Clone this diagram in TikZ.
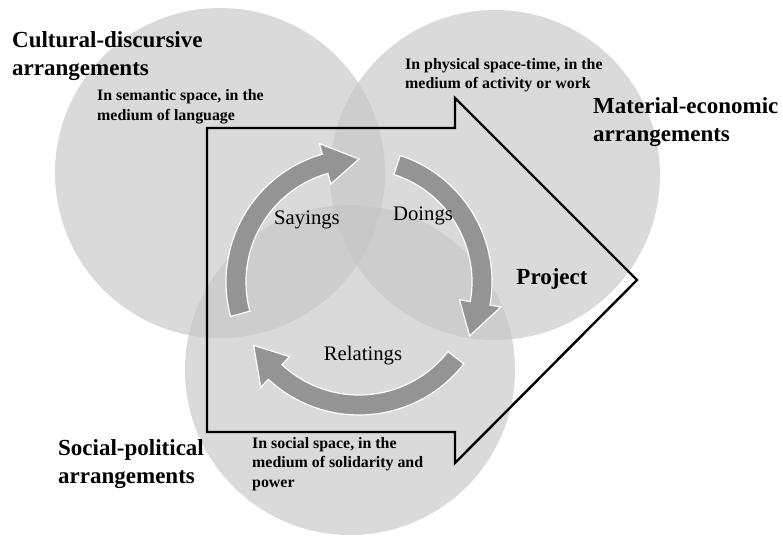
\documentclass[tikz,border=0pt]{standalone}
\usepackage{fontspec}
\setmainfont{Liberation Serif}
\definecolor{ringgray}{RGB}{198,198,198}
\definecolor{cyclegray}{RGB}{148,148,148}
\tikzset{
  arrangement/.style={fill=ringgray, fill opacity=0.65},
  bigl/.style={anchor=west, inner sep=0pt, align=left, font=\fontsize{23}{28}\selectfont\bfseries},
  smalll/.style={anchor=west, inner sep=0pt, align=left, font=\fontsize{15.9}{19.5}\selectfont\bfseries},
  practice/.style={inner sep=0pt, font=\fontsize{20.7}{24}\selectfont},
  cyclearrow/.style={fill=cyclegray, draw=white, line width=1.2pt, line join=miter},
  projectarrow/.style={draw=black, line width=2.4pt, line join=miter},
}
% one curved arrow of the cycle: start angle, tip angle
\newcommand{\practicearrow}[2]{%
  \pgfmathsetmacro{\headbase}{#2+16}
  \path[cyclearrow] (#1:133pt) arc[start angle=#1, end angle=\headbase, radius=133pt]
    -- (\headbase:144pt) -- (#2:123pt) -- (\headbase:102pt) -- (\headbase:113pt)
    arc[start angle=\headbase, end angle=#1, radius=113pt] -- cycle;
}

\begin{document}
\begin{tikzpicture}[x=1pt, y=1pt]
  \useasboundingbox (0,0) rectangle (783,538);

  % the three arrangements
  \coordinate (cd) at (220,365);
  \coordinate (me) at (495,363);
  \coordinate (sp) at (350,168);
  \foreach \c in {cd,me,sp}
    \fill[arrangement] (\c) circle[radius=165pt];

  % project arrow
  \draw[projectarrow] (207,106) -- (207,410) -- (455,410) -- (455,440)
    -- (637,258) -- (455,75) -- (455,106) -- cycle;

  % sayings, doings, relatings
  \begin{scope}[shift={(359,256)}]
    \foreach \from/\tip in {195/90, 72/-26, -38/-149}{
      \practicearrow{\from}{\tip}
    }
  \end{scope}

  \node[practice] (say) at (307,318) {Sayings};
  \node[practice] (do)  at (423,322) {Doings};
  \node[practice] (rel) at (363,182) {Relatings};
  \node[practice, font=\fontsize{23}{28}\selectfont\bfseries] (proj) at (552,259) {Project};

  % labels
  \node[bigl] (cdl) at (12,481.5) {Cultural-discursive\\arrangements};
  \node[bigl] (mel) at (593,415.5) {Material-economic\\arrangements};
  \node[bigl] (spl) at (58,74) {Social-political\\arrangements};
  \node[smalll] (cdt) at (97,431.5) {In semantic space, in the\\medium of language};
  \node[smalll] (met) at (405,463) {In physical space-time, in the\\medium of activity or work};
  \node[smalll] (spt) at (252,74) {In social space, in the\\medium of solidarity and\\power};
\end{tikzpicture}
\end{document}
